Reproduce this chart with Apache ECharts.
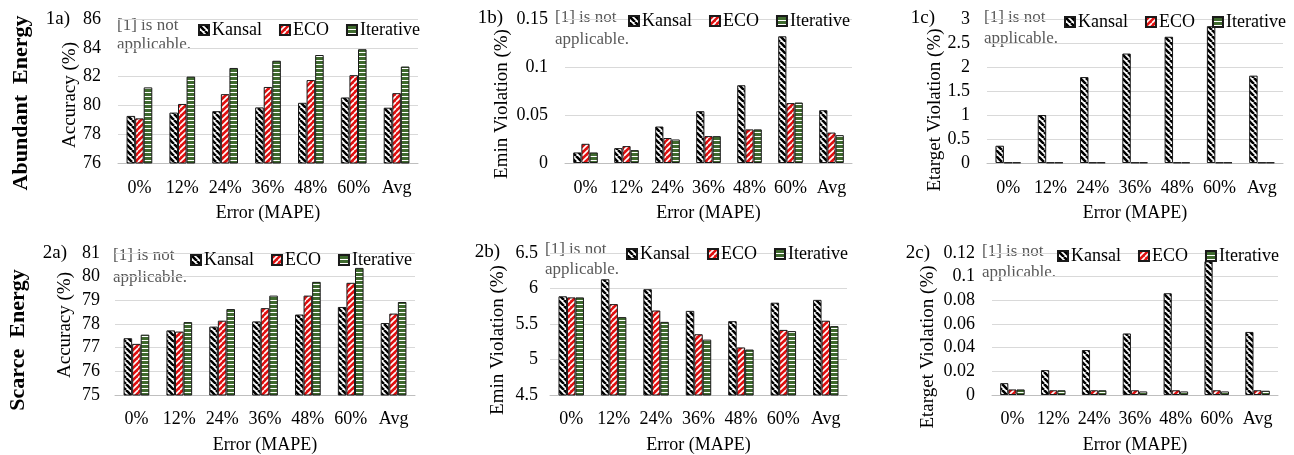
<!DOCTYPE html>
<html><head><meta charset="utf-8">
<script src="https://cdn.jsdelivr.net/npm/echarts@6/dist/echarts.min.js"></script>
<style>html,body{margin:0;padding:0;background:#fff;font-family:'Liberation Serif',serif}#c{width:1294px;height:455px}</style>
</head><body><div id="c"></div>
<script>
// ---------- data ----------
const categories = ['0%', '12%', '24%', '36%', '48%', '60%', 'Avg'];
const seriesNames = ['Kansal', 'ECO', 'Iterative'];

// 1a) Abundant energy – Accuracy (%)
const acc1Kansal    = [79.27, 79.5, 79.6, 79.86, 80.18, 80.55, 79.84];
const acc1ECO       = [79.1, 80.1, 80.78, 81.28, 81.76, 82.1, 80.85];
const acc1Iterative = [81.25, 82.0, 82.6, 83.1, 83.5, 83.9, 82.7];
// 1b) Abundant energy – Emin violation (%)
const emin1Kansal    = [0.011, 0.0155, 0.038, 0.054, 0.081, 0.132, 0.055];
const emin1ECO       = [0.020, 0.0176, 0.026, 0.028, 0.035, 0.0624, 0.0317];
const emin1Iterative = [0.011, 0.0134, 0.0245, 0.028, 0.035, 0.063, 0.029];
// 1c) Abundant energy – Etarget violation (%)
const etar1Kansal    = [0.36, 1.0, 1.79, 2.28, 2.63, 2.85, 1.82];
const etar1ECO       = [0.01, 0.01, 0.01, 0.01, 0.01, 0.01, 0.01];
const etar1Iterative = [0.01, 0.01, 0.01, 0.01, 0.01, 0.01, 0.01];
// 2a) Scarce energy – Accuracy (%)
const acc2Kansal    = [77.4, 77.73, 77.89, 78.11, 78.4, 78.72, 78.04];
const acc2ECO       = [77.16, 77.68, 78.14, 78.67, 79.2, 79.74, 78.44];
const acc2Iterative = [77.55, 78.08, 78.63, 79.2, 79.78, 80.37, 78.93];
// 2b) Scarce energy – Emin violation (%)
const emin2Kansal    = [5.89, 6.13, 5.99, 5.685, 5.54, 5.80, 5.84];
const emin2ECO       = [5.875, 5.78, 5.69, 5.356, 5.17, 5.417, 5.546];
const emin2Iterative = [5.875, 5.597, 5.53, 5.28, 5.14, 5.40, 5.47];
// 2c) Scarce energy – Etarget violation (%)
const etar2Kansal    = [0.010, 0.021, 0.038, 0.052, 0.086, 0.113, 0.0533];
const etar2ECO       = [0.0047, 0.004, 0.004, 0.004, 0.004, 0.004, 0.004];
const etar2Iterative = [0.0047, 0.004, 0.004, 0.003, 0.003, 0.003, 0.0036];

const yTicks = [
  {min: 76, max: 86, interval: 2},
  {min: 0, max: 0.15, interval: 0.05},
  {min: 0, max: 3, interval: 0.5},
  {min: 75, max: 81, interval: 1},
  {min: 4.5, max: 6.5, interval: 0.5},
  {min: 0, max: 0.12, interval: 0.02}
];
const panelLabels = ['1a)', '1b)', '1c)', '2a)', '2b)', '2c)'];
const yNames = ['Accuracy (%)', 'Emin Violation (%)', 'Etarget Violation (%)',
                'Accuracy (%)', 'Emin Violation (%)', 'Etarget Violation (%)'];
const xName = 'Error (MAPE)';
const rowNames = ['Abundant  Energy', 'Scarce  Energy'];
const noteLines = ['[1] is not', 'applicable.'];

const panelData = [
  [acc1Kansal, acc1ECO, acc1Iterative],
  [emin1Kansal, emin1ECO, emin1Iterative],
  [etar1Kansal, etar1ECO, etar1Iterative],
  [acc2Kansal, acc2ECO, acc2Iterative],
  [emin2Kansal, emin2ECO, emin2Iterative],
  [etar2Kansal, etar2ECO, etar2Iterative]
];

// ---------- layout ----------
const FONT = "'Liberation Serif', 'Times New Roman', Times, serif";
const grids = [
  {left: 118, top: 19, width: 300, height: 144},
  {left: 565, top: 19, width: 287, height: 144},
  {left: 987, top: 19, width: 296, height: 144},
  {left: 115, top: 253, width: 300, height: 144},
  {left: 550, top: 253, width: 297, height: 144},
  {left: 992, top: 253, width: 286, height: 144}
];
const yLabelMargin = [17, 17, 17, 15, 12, 17];
const legendPos = [
  {left: 193, top: 16}, {left: 623, top: 7}, {left: 1059, top: 8},
  {left: 185, top: 246}, {left: 621, top: 240}, {left: 1052, top: 242}
];
const notePos = [
  {x: 117, y1: 26, y2: 45}, {x: 555, y1: 18, y2: 40}, {x: 984, y1: 18, y2: 39},
  {x: 113, y1: 256, y2: 278}, {x: 545, y1: 250, y2: 270}, {x: 982, y1: 252, y2: 273}
];
const panelLabelPos = [
  {x: 70, y: 19}, {x: 503, y: 18}, {x: 935, y: 18},
  {x: 67, y: 253}, {x: 500, y: 252}, {x: 930, y: 253}
];
const yNamePos = [
  {x: 70, y: 95}, {x: 502, y: 104}, {x: 935, y: 110},
  {x: 65, y: 325}, {x: 498, y: 340}, {x: 928, y: 347}
];
const rowNamePos = [{x: 21, y: 103}, {x: 18, y: 340}];

// ---------- patterns ----------
function makePattern(bg, fg, kind, size, lw) {
  const c = document.createElement('canvas');
  c.width = size; c.height = size;
  const ctx = c.getContext('2d');
  ctx.fillStyle = bg; ctx.fillRect(0, 0, size, size);
  ctx.strokeStyle = fg; ctx.lineWidth = lw;
  if (kind === 'h') {
    ctx.fillStyle = fg; ctx.fillRect(0, 0, size, lw);
  } else {
    ctx.beginPath();
    for (let k = -1; k <= 1; k++) {
      const x0 = k * size;
      if (kind === 'down') { ctx.moveTo(x0, 0); ctx.lineTo(x0 + size, size); }
      else { ctx.moveTo(x0 + size, 0); ctx.lineTo(x0, size); }
    }
    ctx.stroke();
  }
  return {image: c, repeat: 'repeat'};
}
const fills = [
  makePattern('#ffffff', '#000000', 'down', 6, 2.6),
  makePattern('#e01010', '#ffffff', 'up', 6, 1.6),
  makePattern('#3f6a2e', '#ffffff', 'h', 4, 1)
];

// ---------- option ----------
const option = {
  animation: false,
  backgroundColor: '#ffffff',
  textStyle: {fontFamily: FONT},
  grid: grids.map(g => Object.assign({containLabel: false}, g)),
  xAxis: grids.map((g, i) => ({
    type: 'category', gridIndex: i, data: categories,
    axisTick: {show: false},
    axisLine: {lineStyle: {color: '#bfbfbf', width: 1}},
    axisLabel: {fontSize: 18, color: '#000', fontFamily: FONT, margin: i < 3 ? 16 : 15, interval: 0},
    name: xName, nameLocation: 'middle', nameGap: 41,
    nameTextStyle: {fontSize: 18, color: '#000', fontFamily: FONT}
  })),
  yAxis: grids.map((g, i) => ({
    type: 'value', gridIndex: i,
    min: yTicks[i].min, max: yTicks[i].max, interval: yTicks[i].interval,
    axisLine: {show: false}, axisTick: {show: false},
    splitLine: {lineStyle: {color: '#d9d9d9', width: 1}},
    axisLabel: {fontSize: 18, color: '#000', fontFamily: FONT, margin: yLabelMargin[i]}
  })),
  legend: legendPos.map(p => ({
    left: p.left, top: p.top, data: seriesNames, icon: 'rect',
    itemWidth: 10, itemHeight: 10, itemGap: 17,
    textStyle: {fontSize: 18, color: '#000', fontFamily: FONT, padding: [0, 0, 0, -2]},
    selectedMode: false
  })),
  series: [],
  graphic: []
};

panelData.forEach((arrs, i) => {
  arrs.forEach((vals, s) => {
    option.series.push({
      type: 'bar', name: seriesNames[s], xAxisIndex: i, yAxisIndex: i,
      data: vals, barGap: '0%', barCategoryGap: '40%',
      itemStyle: {color: fills[s], borderColor: '#1a1a1a', borderWidth: 1}
    });
  });
});

notePos.forEach(p => {
  option.graphic.push({type: 'text', x: p.x, y: p.y1, style: {text: noteLines[0], fontSize: 17, fontFamily: FONT, fill: '#595959', align: 'left', verticalAlign: 'middle'}});
  option.graphic.push({type: 'text', x: p.x, y: p.y2, style: {text: noteLines[1], fontSize: 17, fontFamily: FONT, fill: '#595959', align: 'left', verticalAlign: 'middle'}});
});
panelLabelPos.forEach((p, i) => {
  option.graphic.push({type: 'text', x: p.x, y: p.y, style: {text: panelLabels[i], fontSize: 19, fontFamily: FONT, fill: '#000', align: 'right', verticalAlign: 'middle'}});
});
yNamePos.forEach((p, i) => {
  option.graphic.push({type: 'text', x: p.x, y: p.y, rotation: Math.PI / 2, style: {text: yNames[i], fontSize: 19, fontFamily: FONT, fill: '#000', align: 'center', verticalAlign: 'middle'}});
});
rowNamePos.forEach((p, i) => {
  option.graphic.push({type: 'text', x: p.x, y: p.y, rotation: Math.PI / 2, style: {text: rowNames[i], fontSize: 22, fontWeight: 'bold', fontFamily: FONT, fill: '#000', align: 'center', verticalAlign: 'middle'}});
});

const chart = echarts.init(document.getElementById('c'), null, {renderer: 'canvas', width: 1294, height: 455});
chart.setOption(option);
</script>
</body></html>
